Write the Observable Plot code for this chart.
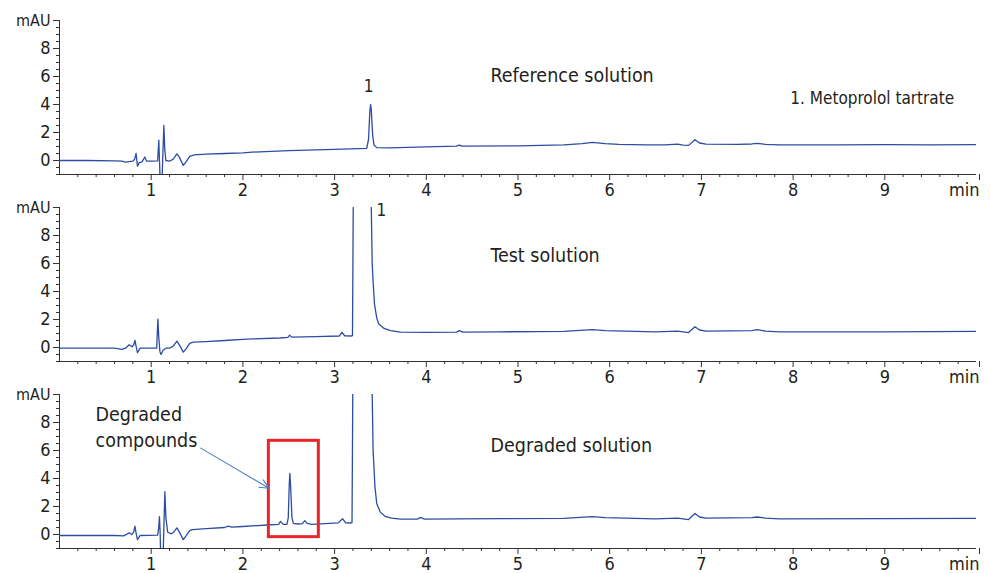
<!DOCTYPE html>
<html><head><meta charset="utf-8">
<script src="https://cdn.jsdelivr.net/npm/d3@7"></script>
<script src="https://cdn.jsdelivr.net/npm/@observablehq/plot@0.6"></script>
<style>
body{margin:0;background:#fff;}
#chart{height:573px;}
#chart svg{display:block;overflow:visible;}
</style>
</head><body><div id="chart"></div>
<script>
// ---- data (time in min, absorbance in mAU) ----
const referenceTrace = [
[0,0],[0.3,0.0],[0.6,-0.03],[0.68,-0.05],[0.72,-0.12],[0.76,-0.08],[0.80,-0.05],[0.82,0.1],[0.835,0.5],[0.85,-0.4],[0.87,-0.15],[0.90,-0.1],[0.93,0.25],[0.95,-0.05],[1.0,-0.05],[1.07,-0.03],
[1.083,1.45],[1.093,-0.5],[1.10,-2],[1.115,-2],[1.125,0],[1.138,2.5],[1.148,0.8],[1.16,0.0],[1.2,-0.05],[1.24,0.1],[1.28,0.47],[1.31,0.2],[1.35,-0.35],[1.38,-0.1],[1.42,0.3],[1.47,0.4],
[1.6,0.45],[1.8,0.5],[2.0,0.55],[2.1,0.6],[2.5,0.7],[3.0,0.8],[3.35,0.87],[3.37,1.5],[3.385,3.6],[3.393,4.0],[3.40,3.6],[3.415,1.8],[3.43,1.1],[3.46,0.92],[3.6,0.9],[4.0,0.98],
[4.33,1.02],[4.36,1.1],[4.39,1.02],[5.0,1.05],[5.5,1.12],[5.7,1.2],[5.81,1.29],[5.95,1.2],[6.1,1.15],[6.4,1.12],[6.6,1.12],[6.74,1.17],[6.8,1.1],[6.86,1.08],[6.93,1.48],[6.98,1.25],
[7.05,1.17],[7.4,1.15],[7.55,1.18],[7.61,1.23],[7.7,1.15],[7.85,1.12],[8.5,1.12],[9.0,1.13],[9.5,1.12],[10,1.14]
];
const testTrace = [
[0,-0.05],[0.6,-0.05],[0.68,-0.14],[0.72,-0.05],[0.76,0.19],[0.79,0.05],[0.81,0.2],[0.823,0.5],[0.835,0.1],[0.85,-0.37],[0.88,-0.05],[1.0,-0.05],[1.06,-0.05],[1.066,1.0],[1.073,2.03],
[1.082,0.8],[1.095,-0.3],[1.108,-0.5],[1.13,-0.2],[1.16,-0.05],[1.2,-0.05],[1.24,0.1],[1.28,0.45],[1.31,0.15],[1.35,-0.33],[1.38,-0.1],[1.42,0.3],[1.46,0.38],[1.6,0.42],[1.8,0.5],
[2.0,0.58],[2.1,0.61],[2.4,0.68],[2.49,0.72],[2.51,0.88],[2.53,0.74],[2.8,0.78],[3.05,0.82],[3.08,1.08],[3.11,0.84],[3.18,0.82],[3.195,0.85],[3.205,12],[3.30,80],[3.395,12],[3.41,6],
[3.42,4.7],[3.435,3.1],[3.46,2.1],[3.48,1.7],[3.54,1.36],[3.61,1.2],[3.72,1.1],[4.0,1.08],[4.33,1.1],[4.36,1.2],[4.4,1.1],[4.8,1.12],[5.5,1.15],[5.81,1.27],[5.95,1.2],[6.5,1.12],
[6.74,1.17],[6.86,1.07],[6.93,1.48],[6.98,1.25],[7.05,1.17],[7.55,1.2],[7.61,1.27],[7.7,1.17],[7.85,1.12],[9,1.12],[10,1.15]
];
const degradedTrace = [
[0,-0.07],[0.6,-0.07],[0.70,-0.1],[0.76,0.12],[0.79,0.0],[0.81,0.2],[0.823,0.59],[0.835,0.1],[0.85,-0.37],[0.88,-0.07],[1.07,-0.05],[1.082,0.5],[1.09,1.27],[1.098,0.0],[1.105,-2],
[1.128,-2],[1.138,0.5],[1.149,3.06],[1.16,1.2],[1.18,0.16],[1.22,0.05],[1.25,0.2],[1.28,0.47],[1.31,0.15],[1.35,-0.37],[1.38,-0.1],[1.42,0.28],[1.45,0.35],[1.6,0.42],[1.8,0.5],
[1.84,0.6],[1.88,0.52],[2.0,0.57],[2.26,0.68],[2.39,0.72],[2.41,0.94],[2.44,0.72],[2.48,0.73],[2.495,1.2],[2.505,3.5],[2.512,4.36],[2.52,3.5],[2.535,1.2],[2.55,0.8],[2.6,0.75],
[2.65,0.78],[2.675,0.99],[2.70,0.8],[2.75,0.72],[3.04,0.83],[3.086,1.13],[3.12,0.84],[3.18,0.82],[3.19,0.85],[3.20,12],[3.30,80],[3.405,12],[3.42,6],[3.44,3.4],[3.46,2.2],
[3.50,1.58],[3.55,1.3],[3.62,1.17],[3.72,1.1],[3.9,1.1],[3.94,1.22],[3.98,1.1],[4.36,1.12],[4.8,1.13],[5.5,1.15],[5.81,1.27],[5.95,1.2],[6.5,1.12],[6.74,1.17],[6.86,1.07],
[6.93,1.5],[6.98,1.25],[7.05,1.17],[7.55,1.2],[7.61,1.25],[7.7,1.17],[7.85,1.12],[9,1.13],[10,1.15]
];
const panelTitles = ["Reference solution", "Test solution", "Degraded solution"];
const peakLabel = "1";
const legendText = "1. Metoprolol tartrate";
const degradedLabel = ["Degraded", "compounds"];
const xMajorTicks = [1,2,3,4,5,6,7,8,9];
const xUnitTick = [10];
const xUnitLabel = "min";
const yMajorTicks = [0,2,4,6,8];
const yUnitTick = [10];
const yUnitLabel = "mAU";
const highlightBox = [{x1:2.283, x2:2.828, y1:-0.19, y2:6.69}];
const calloutArrow = [{x1:1.54, y1:6.17, x2:2.285, y2:3.3}];

// ---- drawing ----
const FONT = "'Liberation Sans Narrow','DejaVu Sans Condensed','Roboto',sans-serif";
const TRACE = "#2b4da3";
const AXIS = "#333";
const TXT = "#231f20";
const xMinorTicks = d3.range(0, 10.001, 0.2).map(v => +v.toFixed(1)).filter(v => !Number.isInteger(v));
const yMinorTicks = d3.range(-1, 10.001, 0.5).filter(v => !(v >= 0 && v % 2 === 0));
const toRows = arr => arr.map(([t, v]) => ({t, v}));

function panel(trace, extraMarks, height = 187, marginBottom = 13) {
  return Plot.plot({
    width: 990, height,
    marginTop: 20, marginBottom, marginLeft: 59, marginRight: 14,
    x: {domain: [0, 10], axis: null},
    y: {domain: [-1, 10], axis: null},
    style: {fontFamily: FONT, background: "transparent", overflow: "visible", color: AXIS},
    marks: [
      Plot.axisX({ticks: xMinorTicks, tickSize: 3, tickFormat: () => "", stroke: AXIS, label: null}),
      Plot.axisX({ticks: xMajorTicks, tickSize: 6, tickPadding: 3, fontSize: 18, fill: TXT, stroke: AXIS, label: null}),
      Plot.axisX({ticks: xUnitTick, tickSize: 6, tickPadding: 3, fontSize: 18, fill: TXT, stroke: AXIS, label: null,
                  tickFormat: () => xUnitLabel, textAnchor: "end", dx: 3}),
      Plot.axisY({ticks: yMinorTicks, tickSize: 3, tickFormat: () => "", stroke: AXIS, label: null}),
      Plot.axisY({ticks: yMajorTicks, tickSize: 6, tickPadding: 3, fontSize: 18, fill: TXT, stroke: AXIS, label: null}),
      Plot.axisY({ticks: yUnitTick, tickSize: 6, tickPadding: 3, fontSize: 16, fill: TXT, stroke: AXIS, label: null,
                  tickFormat: () => yUnitLabel}),
      Plot.ruleY([-1], {stroke: AXIS, strokeWidth: 1}),
      Plot.ruleX([0], {y1: -1, y2: 10, stroke: AXIS, strokeWidth: 1}),
      Plot.line(toRows(trace), {x: "t", y: "v", stroke: TRACE, strokeWidth: 1.3, clip: true}),
      ...extraMarks
    ]
  });
}

const txt = (s, opts) => Plot.text([s], {text: d => d, fill: TXT, fontFamily: FONT, ...opts});

const p1 = panel(referenceTrace, [
  txt(panelTitles[0], {x: 4.70, y: 6.06, textAnchor: "start", fontSize: 19.5}),
  txt(peakLabel, {x: 3.37, y: 5.28, fontSize: 17}),
  txt(legendText, {x: 7.97, y: 4.44, textAnchor: "start", fontSize: 17})
]);
const p2 = panel(testTrace, [
  txt(panelTitles[1], {x: 4.70, y: 6.57, textAnchor: "start", fontSize: 19.5}),
  txt(peakLabel, {x: 3.51, y: 9.75, fontSize: 17})
]);
const p3 = panel(degradedTrace, [
  txt(panelTitles[2], {x: 4.70, y: 6.36, textAnchor: "start", fontSize: 19.5}),
  txt(degradedLabel[0], {x: 0.393, y: 8.55, textAnchor: "start", fontSize: 19.5}),
  txt(degradedLabel[1], {x: 0.393, y: 6.71, textAnchor: "start", fontSize: 19.5}),
  Plot.rect(highlightBox, {x1: "x1", x2: "x2", y1: "y1", y2: "y2", stroke: "#e8262a", strokeWidth: 3, fill: "none"}),
  Plot.arrow(calloutArrow, {x1: "x1", y1: "y1", x2: "x2", y2: "y2", stroke: "#4a7cc4", strokeWidth: 1.1, headLength: 14, headAngle: 50})
], 199, 25);
const root = document.getElementById("chart");
root.append(p1, p2, p3);
</script></body></html>
